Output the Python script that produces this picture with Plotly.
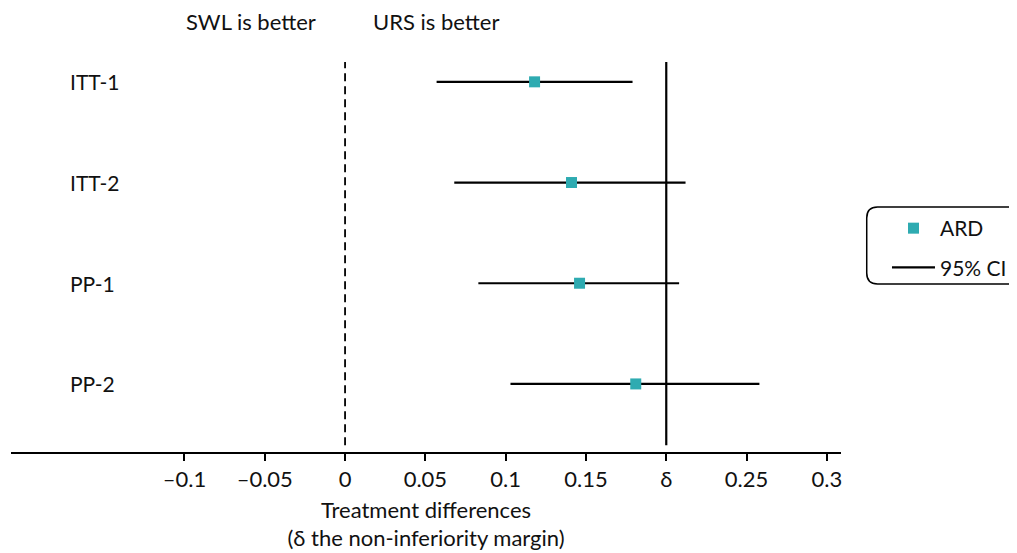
import plotly.graph_objects as go

categories = ["ITT-1", "ITT-2", "PP-1", "PP-2"]
ard = [0.118, 0.141, 0.146, 0.181]
ci_low = [0.057, 0.068, 0.083, 0.103]
ci_high = [0.179, 0.212, 0.208, 0.258]
tick_vals = [-0.1, -0.05, 0, 0.05, 0.1, 0.15, 0.2, 0.25, 0.3]
tick_text = ["\u20130.1", "\u20130.05", "0", "0.05", "0.1", "0.15", "\u03b4", "0.25", "0.3"]
delta = 0.2

FONT = "Lato, 'Open Sans', sans-serif"
TEAL = "#2EABB1"
FS = 22

ypos = [len(categories) - i for i in range(len(categories))]

# CI lines
cx, cy = [], []
for lo, hi, yy in zip(ci_low, ci_high, ypos):
    cx += [lo, hi, None]
    cy += [yy, yy, None]

fig = go.Figure()
fig.add_trace(go.Scatter(x=cx, y=cy, mode="lines", name="95% CI",
                         line=dict(color="black", width=2.2),
                         legendrank=2, legendgroup="b", hoverinfo="skip"))
fig.add_trace(go.Scatter(x=ard, y=ypos, mode="markers", name="ARD",
                         marker=dict(symbol="square", size=11, color=TEAL),
                         legendrank=1, legendgroup="a"))

# reference lines
fig.add_shape(type="line", x0=0, x1=0, y0=0.39, y1=4.197, xref="x", yref="y",
              line=dict(color="black", width=1.8, dash="8px,5px"))
fig.add_shape(type="line", x0=delta, x1=delta, y0=0.39, y1=4.197, xref="x", yref="y",
              line=dict(color="black", width=2.2))

# category labels
for c, yy in zip(categories, ypos):
    fig.add_annotation(x=-0.1725, y=yy, xref="x", yref="y", text=c, showarrow=False,
                       xanchor="left", yanchor="middle", font=dict(size=FS - 1, color="#111"))

fig.add_annotation(x=-0.0585, y=1.1026, xref="x", yref="paper", text="SWL is better",
                   showarrow=False, xanchor="center", yanchor="middle",
                   font=dict(size=FS, color="#111"))
fig.add_annotation(x=0.0567, y=1.1026, xref="x", yref="paper", text="URS is better",
                   showarrow=False, xanchor="center", yanchor="middle",
                   font=dict(size=FS, color="#111"))

# rounded legend box
x0, x1 = 1.031, 1.25
y0, y1 = 0.431, 0.628
rx, ry = 0.013, 0.028
path = (f"M {x0+rx},{y1} L {x1},{y1} L {x1},{y0} L {x0+rx},{y0} "
        f"Q {x0},{y0} {x0},{y0+ry} L {x0},{y1-ry} Q {x0},{y1} {x0+rx},{y1} Z")
fig.add_shape(type="path", path=path, xref="paper", yref="paper",
              line=dict(color="black", width=1.5), fillcolor="rgba(0,0,0,0)")

fig.update_layout(
    width=1009, height=545,
    margin=dict(l=3, r=176, t=54, b=101),
    paper_bgcolor="white", plot_bgcolor="white",
    font=dict(family=FONT, size=FS, color="#111"),
    showlegend=True,
    legend=dict(x=1.0554, y=0.6256, xanchor="left", yanchor="top",
                bgcolor="rgba(0,0,0,0)", borderwidth=0, itemwidth=43,
                font=dict(size=FS - 1), tracegroupgap=9, traceorder="grouped"),
    xaxis=dict(range=[-0.208, 0.3088], tickvals=tick_vals, ticktext=tick_text,
               showgrid=False, zeroline=False, showline=True, linecolor="black",
               linewidth=2, ticks="outside", ticklen=7, tickwidth=1.5,
               tickcolor="black", tickfont=dict(size=FS),
               title=dict(text="Treatment differences<br>(\u03b4 the non-inferiority margin)",
                          font=dict(size=FS), standoff=11)),
    yaxis=dict(range=[0.324, 4.197], showgrid=False, zeroline=False,
               showline=False, showticklabels=False, ticks=""),
)

fig.write_html("out.html")
